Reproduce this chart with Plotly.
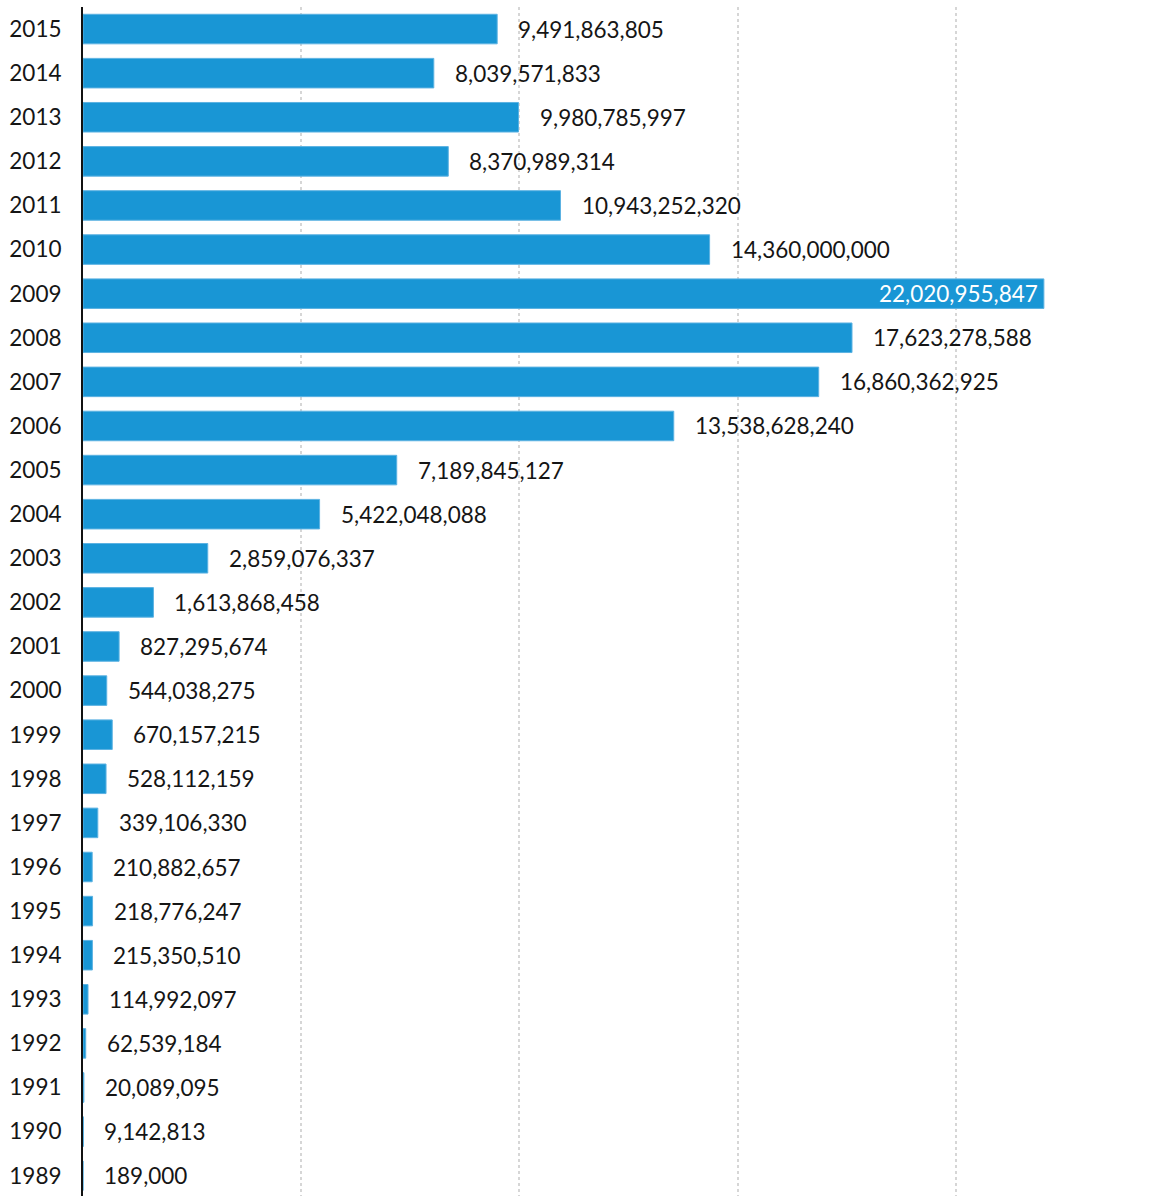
import plotly.graph_objects as go

years = [str(y) for y in range(1989, 2016)]
values = [189000, 9142813, 20089095, 62539184, 114992097, 215350510, 218776247,
          210882657, 339106330, 528112159, 670157215, 544038275, 827295674,
          1613868458, 2859076337, 5422048088, 7189845127, 13538628240,
          16860362925, 17623278588, 22020955847, 14360000000, 10943252320,
          8370989314, 9980785997, 8039571833, 9491863805]

BAR = "#1996d5"
FONT = "Lato"
FS = 22.5
TXT = "#151515"
vmax = max(values)

fig = go.Figure()
fig.add_trace(go.Bar(
    x=values, y=years, orientation="h",
    marker=dict(color=BAR, line=dict(width=1, color="#5cb2e2")),
    hoverinfo="x+y",
))

annotations = []
for i, v in enumerate(values):
    inside = v == vmax
    annotations.append(dict(
        x=v, y=i, xref="x", yref="y",
        text=f"{v:,}",
        showarrow=False,
        xanchor="right" if inside else "left",
        yanchor="middle",
        xshift=-4 if inside else 19,
        font=dict(family=FONT, size=FS, color="white" if inside else TXT),
    ))

fig.update_layout(
    width=1164, height=1196,
    margin=dict(l=83, r=0, t=7, b=0),
    paper_bgcolor="white", plot_bgcolor="white",
    bargap=0.33,
    showlegend=False,
    annotations=annotations,
    font=dict(family=FONT, size=FS, color=TXT),
    xaxis=dict(
        range=[0, vmax * 1.125],
        dtick=5e9, tick0=0,
        showticklabels=False,
        showgrid=True, gridcolor="#d6d6d6", gridwidth=2, griddash="dot",
        zeroline=False, showline=False,
        fixedrange=True,
    ),
    yaxis=dict(
        type="category",
        categoryorder="array", categoryarray=years,
        range=[-0.46, len(years) - 0.5],
        showline=True, linecolor="#111", linewidth=2,
        ticks="", ticklabelstandoff=15,
        tickfont=dict(family=FONT, size=FS, color=TXT),
        showgrid=False, zeroline=False,
        fixedrange=True,
    ),
)

fig.write_html("out.html")
